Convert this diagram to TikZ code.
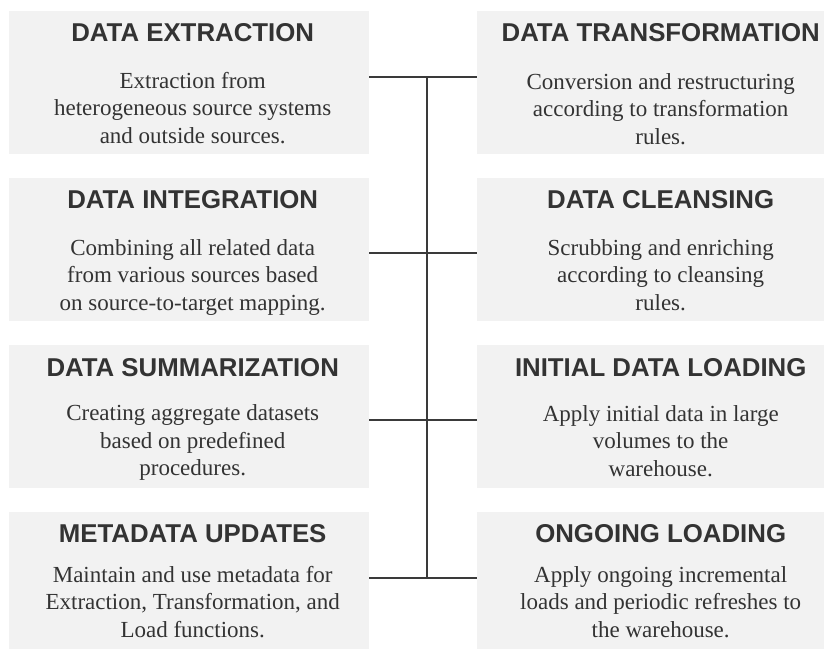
\documentclass[tikz,border=0pt]{standalone}
\usepackage{fontspec}
\setmainfont{Liberation Serif}
\newfontfamily\headfont{Liberation Sans}
\definecolor{boxgray}{HTML}{F2F2F2}
\definecolor{inkgray}{HTML}{333333}
\definecolor{wiregray}{HTML}{3A3A3A}
\begin{document}
\begin{tikzpicture}[x=1pt, y=-1pt,
		stagebox/.style = {rectangle, fill=boxgray, anchor=north west, minimum width=360pt, minimum height=143pt, inner sep=0pt},
		stagetitle/.style = {anchor=base, inner sep=0pt, xshift=3.5pt, text=inkgray, font=\headfont\bfseries\fontsize{25.8}{30}\selectfont},
		stagetext/.style = {anchor=north, inner sep=0pt, xshift=3.5pt, align=center, text=inkgray, font=\fontsize{23}{27.5}\selectfont},
		wire/.style = {draw=wiregray, line width=1.4pt}]
		\path[use as bounding box, clip] (0,0) rectangle (824,648);
		% boxes
		\foreach \i/\ytop in {1/11, 2/178, 3/345, 4/512}{
			\node[stagebox] (l\i) at (9,\ytop) {};
			\node[stagebox] (r\i) at (477,\ytop) {};
		}
		% left column
		\node[stagetitle] (l1t) at ([yshift=-30pt]l1.north) {DATA EXTRACTION};
		\node[stagetext] (l1d) at ([yshift=-57.75pt]l1.north) {\strut Extraction from\\heterogeneous source systems\\and outside sources.};
		\node[stagetitle] (l2t) at ([yshift=-30pt]l2.north) {DATA INTEGRATION};
		\node[stagetext] (l2d) at ([yshift=-57.75pt]l2.north) {\strut Combining all related data\\from various sources based\\on source-to-target mapping.};
		\node[stagetitle] (l3t) at ([yshift=-31pt]l3.north) {DATA SUMMARIZATION};
		\node[stagetext] (l3d) at ([yshift=-56.25pt]l3.north) {\strut Creating aggregate datasets\\based on predefined\\procedures.};
		\node[stagetitle] (l4t) at ([yshift=-30pt]l4.north) {METADATA UPDATES};
		\node[stagetext] (l4d) at ([yshift=-50.75pt]l4.north) {\strut Maintain and use metadata for\\Extraction, Transformation, and\\Load functions.};
		% right column
		\node[stagetitle] (r1t) at ([yshift=-30.5pt]r1.north) {DATA TRANSFORMATION};
		\node[stagetext] (r1d) at ([yshift=-59pt]r1.north) {\strut Conversion and restructuring\\according to transformation\\rules.};
		\node[stagetitle] (r2t) at ([yshift=-30pt]r2.north) {DATA CLEANSING};
		\node[stagetext] (r2d) at ([yshift=-57.75pt]r2.north) {\strut Scrubbing and enriching\\according to cleansing\\rules.};
		\node[stagetitle] (r3t) at ([yshift=-31pt]r3.north) {INITIAL DATA LOADING};
		\node[stagetext] (r3d) at ([yshift=-56.75pt]r3.north) {\strut Apply initial data in large\\volumes to the\\warehouse.};
		\node[stagetitle] (r4t) at ([yshift=-30pt]r4.north) {ONGOING LOADING};
		\node[stagetext] (r4d) at ([yshift=-50.75pt]r4.north) {\strut Apply ongoing incremental\\loads and periodic refreshes to\\the warehouse.};
		% connectors
		\coordinate (j1) at (427,77);
		\coordinate (j2) at (427,253);
		\coordinate (j3) at (427,420);
		\coordinate (j4) at (427,578);
		\foreach \i in {1,...,4}{
			\draw[wire] (l\i.east |- j\i) -- (r\i.west |- j\i);
		}
		\draw[wire] (j1) -- (j4);
	\end{tikzpicture}
\end{document}
